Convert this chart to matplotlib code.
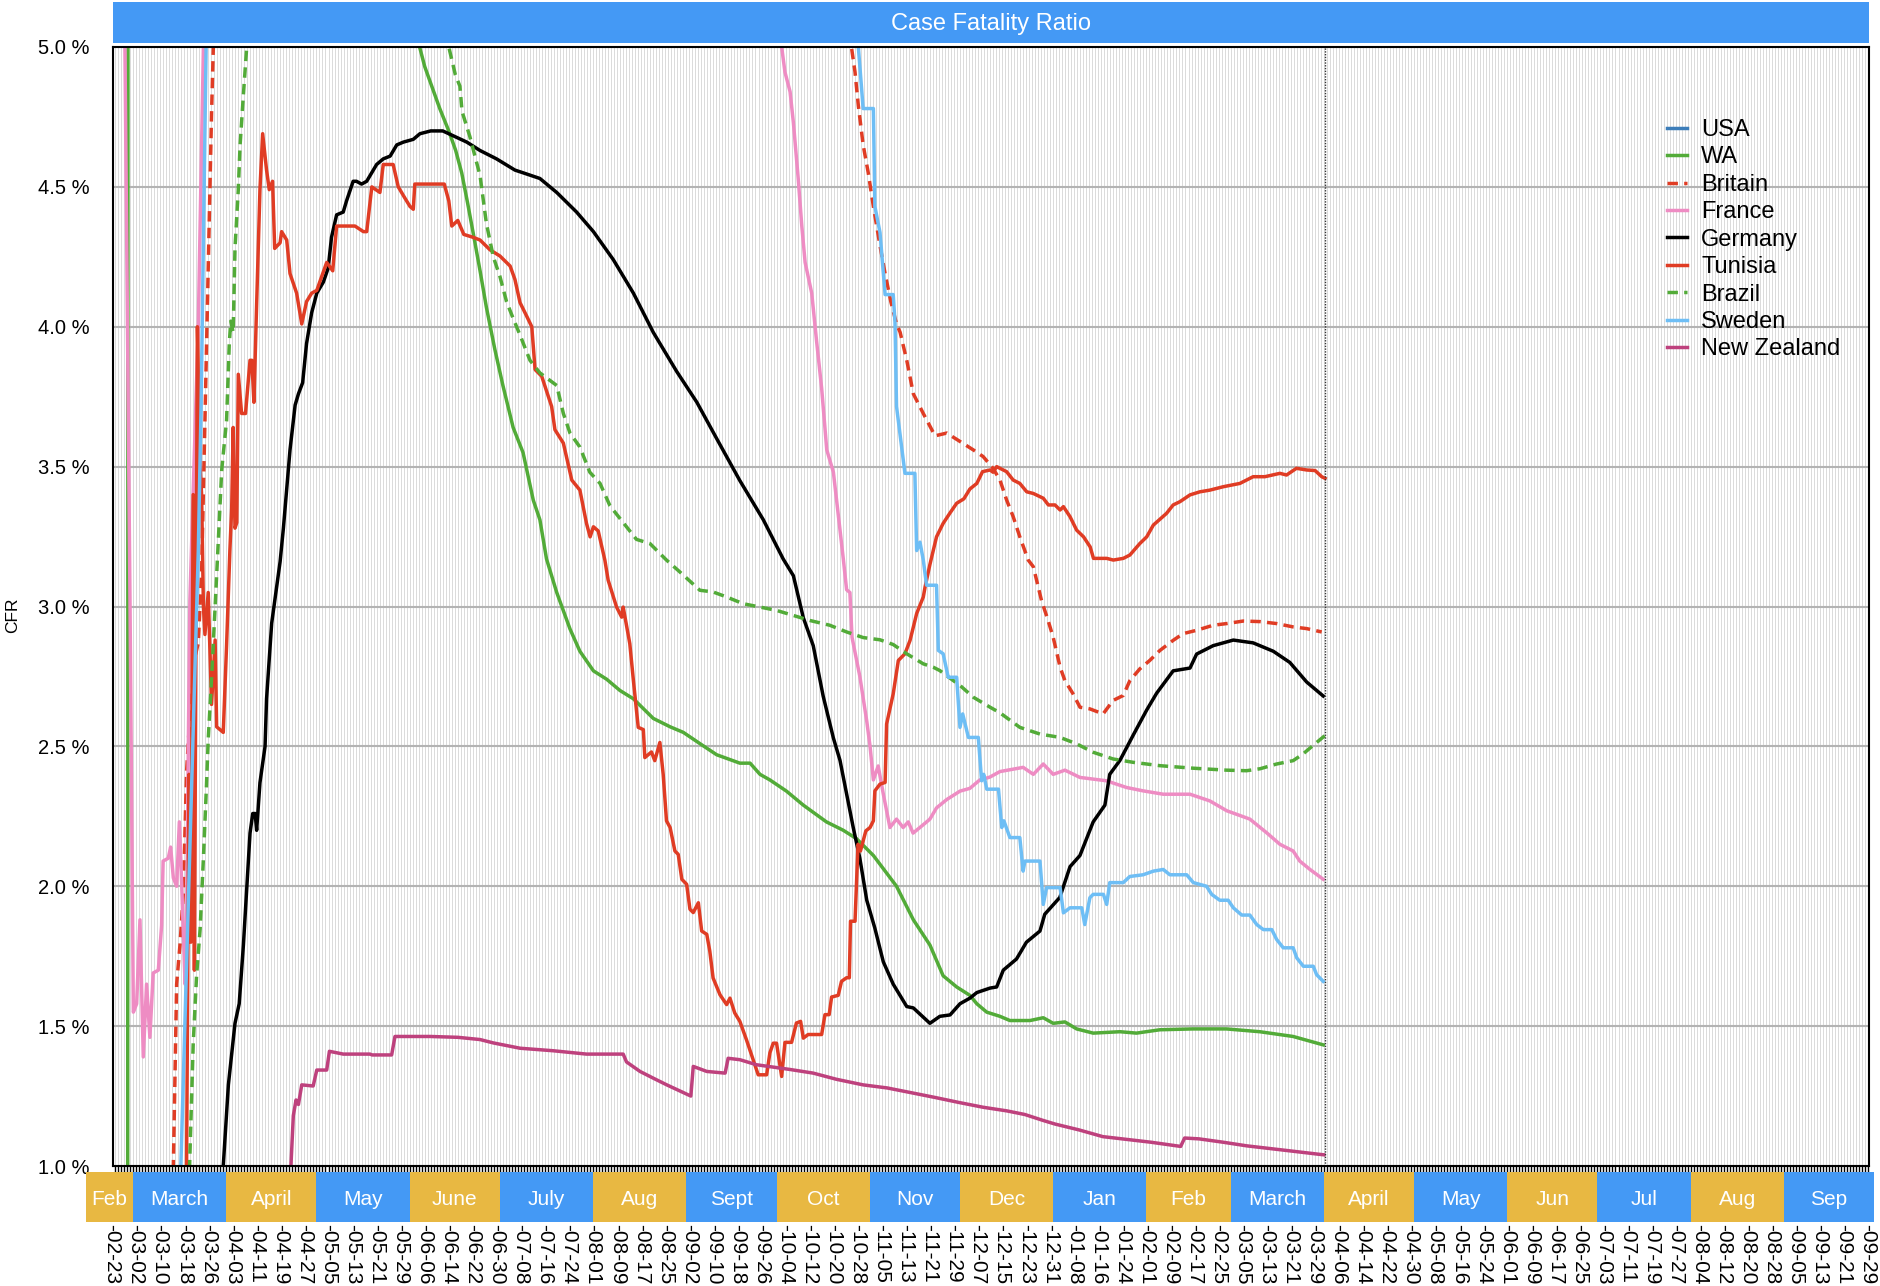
import numpy as np
import pandas as pd
import matplotlib
matplotlib.use("Agg")
import matplotlib.pyplot as plt
import matplotlib.dates as mdates

plt.rcParams['font.family'] = ['Liberation Sans', 'DejaVu Sans']

# day 0 = 2020-02-23, values = case fatality ratio in %
start = pd.Timestamp('2020-02-23')

usa = []
wa = [(1, 0.0), (5.2, 0.0), (5.4, 9.0), (40, 7.0), (80, 6.0), (100, 5.3), (102.3, 5.0), (104, 4.93),
      (106, 4.87), (109, 4.78), (112, 4.7), (114.3, 4.63), (116.3, 4.55), (118.3, 4.44), (120.2, 4.33),
      (122.4, 4.2), (124.5, 4.07), (127.3, 3.92), (130.0, 3.79), (133.4, 3.64), (136.7, 3.55), (140.1, 3.38),
      (142.3, 3.31), (144.5, 3.17), (147.9, 3.05), (152.3, 2.92), (155.6, 2.84), (160.1, 2.77), (164.5, 2.74),
      (168.9, 2.7), (173.4, 2.67), (180.0, 2.6), (185.6, 2.57), (190.0, 2.55), (195.5, 2.51), (201.1, 2.47),
      (208.8, 2.44), (212.2, 2.44), (215.5, 2.4), (218.8, 2.38), (224.3, 2.34), (229.9, 2.29), (237.6, 2.23),
      (243.2, 2.2), (247.6, 2.17), (253.2, 2.11), (260.9, 2.0), (266.5, 1.88), (272.0, 1.79), (276.4, 1.68),
      (280.9, 1.64), (285.3, 1.61), (287.6, 1.58), (290.9, 1.55), (295.3, 1.535), (298.6, 1.52), (305.3, 1.52),
      (309.7, 1.53), (313.0, 1.51), (316.9, 1.515), (320.8, 1.49), (326.3, 1.475), (335.2, 1.48),
      (340.7, 1.475), (348.5, 1.487), (359.5, 1.49), (370.6, 1.49), (381.7, 1.48), (392.8, 1.463),
      (402.8, 1.433)]
britain = [(19.5, 0.3), (20.4, 1.0), (21.5, 1.65), (22.6, 1.79), (23.7, 1.97), (24.8, 2.41), (25.9, 2.61),
           (27.6, 2.82), (28.7, 2.87), (29.8, 3.12), (30.9, 3.66), (32.0, 4.21), (33.1, 4.76), (33.7, 5.0),
           (40, 8.0), (100, 14.0), (200, 12.0), (240, 6.5), (245.9, 5.0), (247.1, 4.91), (248.2, 4.79),
           (249.8, 4.65), (251.5, 4.55), (253.2, 4.43), (255.4, 4.29), (257.1, 4.19), (259.0, 4.09),
           (260.9, 4.01), (262.1, 3.98), (264.3, 3.88), (266.5, 3.76), (269.8, 3.69), (273.7, 3.61),
           (277.6, 3.62), (282.0, 3.59), (286.4, 3.56), (289.7, 3.536), (293.0, 3.494), (295.3, 3.452),
           (297.5, 3.381), (299.7, 3.321), (301.9, 3.249), (304.7, 3.166), (306.4, 3.142), (309.1, 3.022),
           (311.3, 2.95), (313.0, 2.89), (315.3, 2.783), (316.9, 2.735), (319.6, 2.688), (321.9, 2.64),
           (325.2, 2.634), (329.6, 2.616), (332.9, 2.664), (336.3, 2.682), (338.5, 2.735), (341.8, 2.777),
           (345.1, 2.807), (348.5, 2.843), (352.9, 2.879), (356.2, 2.903), (360.7, 2.915), (366.2, 2.933),
           (370.7, 2.939), (376.2, 2.948), (381.8, 2.946), (387.3, 2.939), (392.8, 2.927), (397.3, 2.921),
           (402.3, 2.909)]
france = [(3.0, 7.0), (4.3, 5.0), (6.0, 3.0), (7.1, 1.55), (8.2, 1.58), (9.3, 1.88), (10.4, 1.39),
          (11.5, 1.65), (12.6, 1.46), (13.7, 1.69), (15.4, 1.70), (16.5, 1.86), (17.0, 2.09), (18.7, 2.10),
          (19.5, 2.14), (20.4, 2.03), (21.5, 2.0), (22.4, 2.23), (23.2, 2.0), (24.3, 1.65), (24.8, 1.84),
          (25.4, 2.52), (25.9, 3.02), (28.7, 4.01), (30.4, 5.0), (35, 8.0), (60, 14.0), (120, 16.0),
          (200, 8.0), (221, 5.3), (222.7, 5.0), (223.8, 4.91), (225.5, 4.84), (226.6, 4.73), (228.2, 4.53),
          (229.4, 4.36), (230.5, 4.23), (232.7, 4.12), (234.3, 3.95), (236.0, 3.78), (237.7, 3.56),
          (239.9, 3.48), (241.5, 3.33), (243.2, 3.17), (244.3, 3.06), (245.4, 3.05), (246.1, 2.89),
          (248.7, 2.75), (251.0, 2.59), (252.1, 2.5), (253.2, 2.38), (254.8, 2.43), (256.5, 2.33),
          (258.7, 2.21), (260.9, 2.24), (263.1, 2.21), (264.8, 2.23), (266.4, 2.19), (269.8, 2.22),
          (272.0, 2.24), (274.2, 2.28), (277.6, 2.31), (282.0, 2.34), (285.3, 2.35), (288.6, 2.38),
          (291.9, 2.39), (295.3, 2.41), (303.0, 2.425), (306.4, 2.40), (309.7, 2.437), (313.0, 2.40),
          (316.9, 2.415), (321.9, 2.389), (330.7, 2.377), (337.4, 2.353), (342.9, 2.341), (349.6, 2.329),
          (358.5, 2.329), (365.1, 2.305), (370.7, 2.27), (378.4, 2.24), (383.9, 2.192), (388.4, 2.15),
          (392.8, 2.126), (395.0, 2.09), (398.4, 2.06), (402.8, 2.025)]
germany = [(30, 0.3), (37.0, 1.0), (38.7, 1.29), (40.9, 1.51), (42.3, 1.58), (43.7, 1.79), (44.8, 1.99),
           (45.9, 2.19), (46.8, 2.26), (47.6, 2.26), (48.1, 2.2), (49.2, 2.37), (50.9, 2.5), (51.4, 2.67),
           (53.1, 2.94), (55.9, 3.16), (57.0, 3.28), (59.2, 3.56), (60.9, 3.72), (62.0, 3.76), (63.4, 3.8),
           (64.7, 3.94), (66.4, 4.05), (68.1, 4.12), (70.3, 4.16), (71.9, 4.21), (73.0, 4.32), (74.7, 4.4),
           (76.9, 4.41), (78.0, 4.45), (80.2, 4.52), (81.3, 4.52), (83.0, 4.51), (84.7, 4.52), (88.0, 4.58),
           (90.2, 4.6), (92.5, 4.61), (94.7, 4.65), (96.9, 4.66), (100.2, 4.67), (102.4, 4.69), (106.0, 4.7),
           (110.0, 4.7), (114.0, 4.68), (118.0, 4.66), (122.4, 4.63), (127.9, 4.6), (134.0, 4.56),
           (136.8, 4.55), (142.3, 4.53), (147.9, 4.48), (154.5, 4.41), (160.1, 4.34), (166.7, 4.24),
           (173.4, 4.12), (180.0, 3.98), (187.8, 3.84), (194.5, 3.73), (201.1, 3.6), (208.8, 3.45),
           (216.6, 3.31), (223.2, 3.17), (226.6, 3.11), (229.9, 2.96), (233.2, 2.86), (236.5, 2.68),
           (239.9, 2.53), (242.1, 2.45), (244.3, 2.33), (246.5, 2.21), (248.7, 2.1), (251.0, 1.95),
           (253.7, 1.85), (256.5, 1.73), (259.8, 1.65), (264.3, 1.57), (266.5, 1.565), (272.0, 1.51),
           (275.3, 1.535), (278.7, 1.54), (282.0, 1.58), (285.3, 1.6), (287.6, 1.62), (292.0, 1.636),
           (294.2, 1.64), (296.4, 1.7), (300.8, 1.74), (304.1, 1.8), (308.6, 1.84), (310.2, 1.9),
           (315.2, 1.96), (318.6, 2.07), (321.9, 2.11), (326.3, 2.23), (330.2, 2.29), (331.8, 2.4),
           (335.2, 2.45), (339.6, 2.54), (344.1, 2.63), (347.4, 2.69), (352.9, 2.77), (358.5, 2.78),
           (360.7, 2.83), (366.2, 2.86), (372.9, 2.88), (379.5, 2.87), (386.2, 2.84), (391.7, 2.8),
           (397.3, 2.73), (402.8, 2.68)]
tunisia = [(23.5, 0.3), (24.8, 1.0), (25.6, 2.4), (26.2, 1.8), (27.0, 3.4), (27.4, 1.7), (28.4, 4.0),
           (29.3, 3.5), (29.8, 3.4), (30.4, 3.0), (30.9, 2.9), (32.0, 3.05), (33.1, 2.65), (34.3, 2.88),
           (34.8, 2.57), (37.0, 2.55), (38.1, 2.86), (39.2, 3.2), (39.8, 3.35), (40.3, 3.64), (40.9, 3.28),
           (41.5, 3.3), (42.0, 3.83), (43.1, 3.69), (44.4, 3.69), (45.9, 3.88), (46.5, 3.88), (47.2, 3.73),
           (48.1, 4.08), (49.2, 4.49), (50.1, 4.69), (51.4, 4.56), (52.3, 4.49), (53.4, 4.52), (54.1, 4.28),
           (55.9, 4.30), (56.4, 4.34), (58.1, 4.31), (59.2, 4.19), (61.4, 4.12), (63.1, 4.01), (64.7, 4.09),
           (66.4, 4.12), (68.1, 4.13), (69.1, 4.16), (71.4, 4.23), (73.4, 4.2), (74.7, 4.36), (78.0, 4.36),
           (80.8, 4.36), (83.6, 4.34), (84.7, 4.34), (86.4, 4.5), (89.1, 4.48), (90.2, 4.58), (93.5, 4.58),
           (95.2, 4.5), (97.4, 4.46), (99.1, 4.43), (100.2, 4.42), (100.7, 4.51), (105.8, 4.51),
           (110.5, 4.51), (112.0, 4.45), (113.0, 4.36), (115.0, 4.38), (117.0, 4.33), (120.0, 4.32),
           (122.4, 4.31), (125.7, 4.275), (129.0, 4.253), (132.4, 4.217), (134.0, 4.169), (135.7, 4.086),
           (137.9, 4.038), (139.6, 4.0), (140.7, 3.847), (142.9, 3.823), (146.2, 3.715), (147.3, 3.632),
           (150.1, 3.584), (152.9, 3.452), (155.6, 3.416), (157.8, 3.297), (159.0, 3.249), (160.1, 3.285),
           (161.7, 3.27), (163.9, 3.166), (165.0, 3.094), (167.8, 2.998), (169.5, 2.962), (170.0, 2.998),
           (172.2, 2.867), (173.4, 2.735), (175.0, 2.568), (176.7, 2.56), (177.2, 2.46), (179.4, 2.48),
           (180.5, 2.449), (182.2, 2.514), (183.3, 2.40), (184.4, 2.234), (185.6, 2.21), (187.2, 2.126),
           (188.3, 2.114), (189.5, 2.025), (191.1, 2.007), (192.2, 1.918), (193.3, 1.906), (195.0, 1.941),
           (196.1, 1.84), (197.8, 1.828), (198.8, 1.768), (199.9, 1.672), (202.2, 1.612), (204.4, 1.577),
           (205.5, 1.60), (207.1, 1.547), (208.8, 1.517), (211.0, 1.451), (212.7, 1.397), (214.9, 1.326),
           (217.7, 1.326), (218.8, 1.405), (219.9, 1.439), (221.0, 1.439), (222.7, 1.32), (223.8, 1.442),
           (226.0, 1.442), (227.6, 1.511), (229.0, 1.517), (229.9, 1.457), (231.5, 1.47), (236.0, 1.47),
           (237.1, 1.541), (238.5, 1.541), (239.3, 1.604), (241.5, 1.61), (242.6, 1.66), (244.3, 1.673),
           (245.2, 1.673), (245.6, 1.875), (247.1, 1.875), (248.1, 2.15), (248.9, 2.126), (250.7, 2.198),
           (252.1, 2.21), (253.2, 2.234), (253.7, 2.341), (255.4, 2.365), (257.1, 2.371), (257.6, 2.58),
           (259.8, 2.688), (261.5, 2.807), (263.7, 2.831), (265.4, 2.879), (267.6, 2.975), (269.8, 3.034),
           (270.4, 3.07), (272.0, 3.15), (274.2, 3.249), (276.4, 3.297), (278.6, 3.333), (280.9, 3.369),
           (283.3, 3.385), (285.3, 3.42), (287.6, 3.44), (289.5, 3.482), (292.0, 3.488), (293.0, 3.48),
           (294.2, 3.5), (297.5, 3.482), (299.7, 3.452), (301.9, 3.44), (304.2, 3.41), (306.4, 3.404),
           (309.7, 3.387), (311.4, 3.363), (313.6, 3.363), (315.3, 3.345), (316.4, 3.357), (318.6, 3.321),
           (320.8, 3.273), (323.1, 3.249), (325.3, 3.213), (326.4, 3.172), (330.8, 3.172), (333.0, 3.166),
           (336.3, 3.172), (338.5, 3.184), (341.8, 3.225), (344.1, 3.249), (346.3, 3.291), (350.7, 3.333),
           (352.9, 3.363), (355.2, 3.375), (358.5, 3.399), (361.8, 3.41), (365.1, 3.416), (369.5, 3.428),
           (375.1, 3.44), (379.5, 3.464), (383.4, 3.464), (388.4, 3.476), (390.6, 3.47), (393.9, 3.494),
           (397.3, 3.488), (400.1, 3.486), (402.3, 3.464), (403.4, 3.458)]
brazil = [(25.0, 0.3), (25.8, 1.0), (27.0, 1.435), (28.1, 1.675), (29.3, 1.846), (30.4, 2.1), (31.4, 2.355),
          (32.0, 2.525), (33.1, 2.74), (34.3, 3.0), (36.5, 3.49), (38.1, 3.665), (39.0, 3.94), (39.5, 4.02),
          (40.3, 3.98), (40.9, 4.28), (42.0, 4.49), (42.6, 4.65), (43.7, 4.83), (44.8, 5.0), (60, 6.5),
          (100, 5.8), (110, 5.2), (112.0, 5.0), (114.2, 4.9), (115.7, 4.86), (116.4, 4.77), (119.0, 4.68),
          (122.4, 4.54), (124.5, 4.37), (126.8, 4.25), (129.0, 4.18), (131.2, 4.09), (133.4, 4.03),
          (135.7, 3.97), (139.0, 3.88), (142.3, 3.835), (147.9, 3.79), (150.1, 3.69), (152.3, 3.62),
          (155.6, 3.57), (158.9, 3.48), (162.3, 3.44), (165.6, 3.36), (170.0, 3.3), (174.4, 3.24),
          (178.9, 3.225), (184.4, 3.166), (188.8, 3.124), (195.5, 3.058), (199.9, 3.052), (204.4, 3.034),
          (209.9, 3.01), (215.5, 2.998), (221.0, 2.986), (226.6, 2.968), (232.1, 2.95), (238.7, 2.933),
          (244.3, 2.909), (249.8, 2.889), (255.4, 2.881), (259.8, 2.864), (264.3, 2.831), (269.8, 2.795),
          (273.1, 2.783), (275.3, 2.771), (279.8, 2.735), (282.0, 2.718), (286.4, 2.676), (292.0, 2.64),
          (295.3, 2.62), (301.9, 2.568), (308.6, 2.544), (315.3, 2.532), (320.8, 2.509), (326.3, 2.479),
          (332.9, 2.455), (339.6, 2.443), (348.5, 2.431), (359.5, 2.422), (370.6, 2.415), (377.3, 2.413),
          (381.8, 2.42), (387.3, 2.437), (392.8, 2.449), (396.1, 2.473), (399.4, 2.503), (403.3, 2.538)]
sweden = [(22.0, 0.4), (22.9, 1.0), (28.7, 3.2), (29.6, 3.7), (31.3, 5.0), (33, 7.5), (100, 12.0),
          (200, 8.0), (246, 5.6), (248.2, 5.0), (249.8, 4.78), (253.2, 4.78), (253.7, 4.43), (255.4, 4.337),
          (257.1, 4.115), (259.8, 4.115), (260.4, 4.014), (260.9, 3.715), (263.7, 3.476), (267.0, 3.476),
          (267.6, 3.2), (268.7, 3.23), (269.8, 3.166), (270.9, 3.076), (274.2, 3.076), (274.8, 2.843),
          (276.4, 2.831), (278.1, 2.747), (280.9, 2.747), (282.0, 2.568), (282.9, 2.616), (284.8, 2.532),
          (288.1, 2.532), (289.2, 2.377), (289.9, 2.40), (290.9, 2.347), (294.8, 2.347), (295.9, 2.21),
          (296.6, 2.234), (298.6, 2.174), (301.9, 2.174), (303.0, 2.054), (303.6, 2.09), (308.6, 2.09),
          (309.7, 1.935), (310.8, 1.995), (315.3, 1.995), (316.4, 1.905), (318.6, 1.923), (322.5, 1.923),
          (323.5, 1.863), (325.2, 1.959), (326.3, 1.971), (329.7, 1.971), (330.8, 1.935), (331.8, 2.013),
          (336.3, 2.013), (338.5, 2.035), (342.9, 2.041), (346.3, 2.054), (349.6, 2.06), (351.8, 2.041),
          (357.4, 2.041), (359.6, 2.013), (364.0, 2.0), (365.7, 1.971), (368.4, 1.95), (371.2, 1.95),
          (372.9, 1.923), (375.7, 1.897), (378.4, 1.897), (380.7, 1.863), (382.9, 1.845), (385.7, 1.845),
          (387.3, 1.81), (389.5, 1.78), (392.8, 1.78), (394.0, 1.744), (396.2, 1.714), (399.5, 1.714),
          (400.6, 1.684), (402.8, 1.66)]
new_zealand = [(57.0, 0.5), (59.5, 1.0), (60.3, 1.18), (61.2, 1.236), (62.0, 1.22), (63.1, 1.29),
               (66.9, 1.286), (68.1, 1.343), (71.4, 1.343), (72.3, 1.41), (76.9, 1.40), (85.8, 1.40),
               (86.5, 1.397), (93.0, 1.397), (94.1, 1.463), (105.8, 1.463), (115, 1.46), (122.4, 1.452),
               (126.8, 1.44), (135.7, 1.421), (146.7, 1.412), (157.8, 1.40), (170.0, 1.40), (171.1, 1.372),
               (175.6, 1.338), (180.0, 1.314), (184.5, 1.29), (188.5, 1.27), (192.5, 1.25), (193.3, 1.356),
               (197.8, 1.338), (203.9, 1.332), (204.9, 1.385), (208.8, 1.38), (214.3, 1.362), (225.5, 1.345),
               (233.2, 1.332), (240.9, 1.31), (249.8, 1.29), (257.8, 1.279), (265.8, 1.262), (273.7, 1.245),
               (281.7, 1.227), (289.7, 1.21), (297.6, 1.197), (303.6, 1.184), (309.6, 1.163), (313.6, 1.15),
               (321.6, 1.129), (329.5, 1.105), (337.5, 1.095), (345.5, 1.085), (355.4, 1.07), (356.7, 1.10),
               (361.5, 1.097), (369.5, 1.085), (377.4, 1.072), (385.4, 1.062), (393.4, 1.052), (401.3, 1.042),
               (403.0, 1.04)]

tick_dates = pd.date_range('2020-02-23', '2021-09-29', freq='8D')
month_names = ['Feb', 'March', 'April', 'May', 'June', 'July', 'Aug', 'Sept', 'Oct', 'Nov', 'Dec',
               'Jan', 'Feb', 'March', 'April', 'May', 'Jun', 'Jul', 'Aug', 'Sep']
month_starts = pd.date_range('2020-02-01', periods=21, freq='MS')
today = pd.Timestamp('2021-04-01 10:00')

series = [('USA', usa, '#3C7DB9', '-'), ('WA', wa, '#52AB38', '-'), ('Britain', britain, '#E03C24', '--'),
          ('France', france, '#EE8CC3', '-'), ('Germany', germany, 'black', '-'),
          ('Tunisia', tunisia, '#E03C24', '-'), ('Brazil', brazil, '#52AB38', '--'),
          ('Sweden', sweden, '#6EBEF5', '-'), ('New Zealand', new_zealand, '#BE417D', '-')]

gold = '#E8B842'
blue = '#4499F5'
LW = 2.5

W, H = 1880, 1286
fig = plt.figure(figsize=(W / 100, H / 100), dpi=100)
fig.patch.set_facecolor('white')


def px_axes(x0, y0, x1, y1):
    return fig.add_axes([x0 / W, 1 - y1 / H, (x1 - x0) / W, (y1 - y0) / H])


def day_at(px):
    # horizontal pixel -> date (112 px = 2020-02-23, ~3.007 px per day)
    return start + pd.Timedelta(days=(px - 112) / 3.007)


# main plot
ax = px_axes(113, 47, 1869, 1166)
handles = []
for name, pts, col, ls in series:
    if not pts:
        continue
    d, v = np.array(pts).T
    x = start + pd.to_timedelta(d, unit='D')
    line, = ax.plot(x, v, color=col, lw=LW, label=name)
    if ls == '--':
        line.set_dashes([3.0, 1.8])
    handles.append(line)

usa_line, = ax.plot([], [], color='#3C7DB9', lw=LW, label='USA')
handles = [usa_line] + handles

ax.axvline(today, color='#333333', lw=1.0, ls=(0, (1, 1)))

ax.set_xlim(day_at(113), day_at(1869))
ax.set_ylim(1.0, 5.0)
ax.xaxis.set_major_locator(mdates.DayLocator())
ax.tick_params(axis='x', which='major', direction='out', length=4, width=1, labelbottom=False)
ax.grid(axis='x', which='major', color='#dadada', lw=0.7)
yt = np.arange(1.0, 5.01, 0.5)
ax.set_yticks(yt)
ax.set_yticklabels(['%.1f %%' % t for t in yt])
ax.tick_params(axis='y', length=0, pad=17, labelsize=14.5)
ax.grid(axis='y', color='#b3b3b3', lw=1.5)
ax.set_axisbelow(True)
for sp in ax.spines.values():
    sp.set_linewidth(1.5)
    sp.set_color('black')

ax.legend(handles=handles, loc='upper left', bbox_to_anchor=(1667 / W, 1 - 119 / H),
          bbox_transform=fig.transFigure, frameon=False, fontsize=17, handlelength=0.85,
          handletextpad=0.6, labelspacing=0.23, borderpad=0, borderaxespad=0)

fig.text(13 / W, 1 - 615 / H, 'CFR', rotation=90, ha='center', va='center', fontsize=12.5)

# title bar
tax = px_axes(113, 2, 1869, 43)
tax.set_facecolor(blue)
tax.set_xticks([])
tax.set_yticks([])
for sp in tax.spines.values():
    sp.set_visible(False)
tax.text(0.5, 0.47, 'Case Fatality Ratio', color='white', fontsize=17, ha='center', va='center',
         transform=tax.transAxes)

# month band with the date labels under it
bax = px_axes(86, 1172, 1880, 1222)
left, right = day_at(86), day_at(1880)
bax.set_xlim(left, right)
bax.set_ylim(0, 1)
for i, name in enumerate(month_names):
    s = max(month_starts[i], left)
    e = min(month_starts[i + 1], right)
    bax.axvspan(s, e, color=gold if i % 2 == 0 else blue, lw=0, zorder=3)
    bax.text(s + (e - s) / 2, 0.45, name, color='white', fontsize=15, ha='center', va='center', zorder=4)
bax.set_yticks([])
bax.set_xticks(tick_dates)
bax.xaxis.set_major_formatter(mdates.DateFormatter('-%m-%d'))
bax.tick_params(axis='x', length=0, pad=1.5, labelsize=15, labelrotation=-90)
for sp in bax.spines.values():
    sp.set_visible(False)

fig.savefig('out.png', dpi=100)
